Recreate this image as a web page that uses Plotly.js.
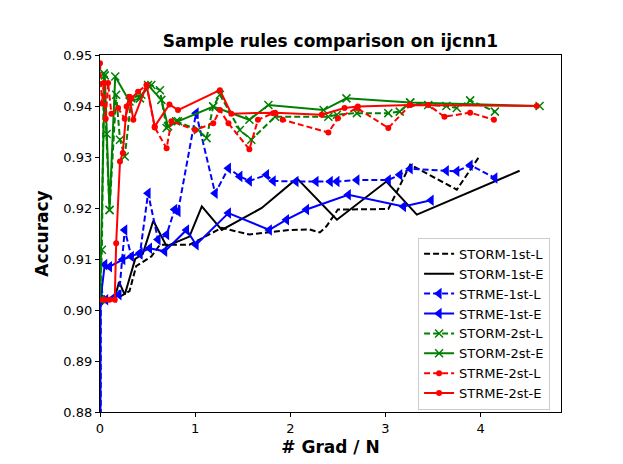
<!DOCTYPE html>
<html>
<head>
<meta charset="utf-8">
<script src="https://cdn.plot.ly/plotly-3.0.1.min.js"></script>
<style>html,body{margin:0;padding:0;background:#fff;}#chart{width:623px;height:464px;}</style>
</head>
<body>
<div id="chart"></div>
<script>
// ---- data ----
const stormL1_x = [0, 0.005, 0.155, 0.31, 0.38, 0.54, 0.63, 0.94, 1.28, 1.57, 2.0, 2.20, 2.31, 2.38, 2.50, 3.03, 3.26, 3.75, 3.99];
const stormL1_y = [0.5, 0.902, 0.902, 0.9037, 0.9086, 0.9105, 0.9128, 0.9128, 0.9161, 0.9148, 0.9157, 0.9158, 0.9152, 0.9164, 0.9197, 0.9198, 0.9285, 0.9236, 0.9302];

const stormE1_x = [0, 0.15, 0.2, 0.26, 0.37, 0.45, 0.56, 0.70, 0.94, 1.07, 1.28, 1.47, 1.70, 2.07, 2.49, 3.01, 3.33, 4.41];
const stormE1_y = [0.902, 0.902, 0.9055, 0.903, 0.910, 0.911, 0.9175, 0.9125, 0.9144, 0.9203, 0.9157, 0.9177, 0.920, 0.9258, 0.9177, 0.9252, 0.9187, 0.9273];

const strmeL1_x = [0, 0.005, 0.06, 0.15, 0.2, 0.26, 0.33, 0.42, 0.505, 0.61, 0.70, 0.785, 0.82, 1.01, 1.21, 1.35, 1.47, 1.57, 1.75, 1.82, 2.06, 2.27, 2.42, 2.49, 2.70, 3.03, 3.15, 3.26, 3.64, 3.75, 3.89, 4.15];
const strmeL1_y = [0.5, 0.9043, 0.902, 0.9025, 0.903, 0.9157, 0.9105, 0.911, 0.9229, 0.9138, 0.9148, 0.9197, 0.9193, 0.9386, 0.9229, 0.9278, 0.9262, 0.9253, 0.9265, 0.9253, 0.9252, 0.9252, 0.9252, 0.9252, 0.9255, 0.9255, 0.9265, 0.9277, 0.9273, 0.9272, 0.9284, 0.9259];

const strmeE1_x = [0, 0.005, 0.05, 0.1, 0.24, 0.42, 0.52, 0.68, 0.91, 1.01, 1.35, 1.78, 1.96, 2.17, 2.61, 3.19, 3.48];
const strmeE1_y = [0.5, 0.902, 0.9089, 0.9085, 0.9099, 0.9112, 0.9121, 0.9115, 0.9157, 0.9128, 0.919, 0.9157, 0.9177, 0.9197, 0.9226, 0.9203, 0.9215];

const stormL2_x = [0, 0.02, 0.04, 0.07, 0.1, 0.17, 0.21, 0.26, 0.33, 0.435, 0.54, 0.63, 0.70, 0.80, 1.03, 1.12, 1.19, 1.26, 1.47, 1.59, 1.84, 2.40, 2.49, 2.70, 3.03, 3.15, 3.26, 3.45, 3.64, 3.75, 3.89, 4.15];
const stormL2_y = [0.902, 0.9118, 0.9464, 0.9345, 0.9196, 0.9422, 0.9334, 0.9301, 0.9415, 0.9422, 0.9441, 0.9431, 0.9357, 0.937, 0.9353, 0.9337, 0.9399, 0.9422, 0.9353, 0.9334, 0.9379, 0.9379, 0.9383, 0.9386, 0.9386, 0.9389, 0.9407, 0.9402, 0.94, 0.9396, 0.9411, 0.9389];

const stormE2_x = [0, 0.05, 0.1, 0.16, 0.31, 0.42, 0.505, 0.645, 0.715, 0.82, 1.19, 1.57, 1.77, 2.35, 2.59, 3.26, 4.62];
const stormE2_y = [0.902, 0.946, 0.9196, 0.9458, 0.9409, 0.9415, 0.9441, 0.9412, 0.936, 0.937, 0.9399, 0.9373, 0.9402, 0.9392, 0.9415, 0.9407, 0.940];

const strmeL2_x = [0, 0.02, 0.04, 0.06, 0.085, 0.12, 0.19, 0.26, 0.33, 0.40, 0.49, 0.575, 0.70, 0.75, 1.0, 1.19, 1.26, 1.35, 1.57, 1.66, 1.82, 1.92, 2.40, 2.50, 2.70, 3.03, 3.26, 3.45, 3.62, 3.89, 4.14];
const strmeL2_y = [0.9484, 0.9405, 0.9445, 0.9375, 0.9445, 0.9385, 0.9396, 0.9375, 0.9415, 0.9428, 0.9441, 0.9358, 0.9317, 0.937, 0.9353, 0.9366, 0.9392, 0.9366, 0.9315, 0.9373, 0.9386, 0.9373, 0.9348, 0.9376, 0.9396, 0.9357, 0.9402, 0.9402, 0.9379, 0.9387, 0.9373];

const strmeE2_x = [0, 0.05, 0.1, 0.155, 0.17, 0.21, 0.24, 0.28, 0.31, 0.35, 0.49, 0.575, 0.73, 0.82, 1.26, 1.38, 1.84, 2.33, 2.57, 2.71, 3.26, 4.59];
const strmeE2_y = [0.902, 0.902, 0.902, 0.902, 0.9131, 0.9291, 0.9308, 0.9399, 0.9418, 0.9373, 0.9441, 0.936, 0.9403, 0.9392, 0.9431, 0.9385, 0.9387, 0.9383, 0.9396, 0.9399, 0.9402, 0.940];

const seriesNames = ["STORM-1st-L", "STORM-1st-E", "STRME-1st-L", "STRME-1st-E", "STORM-2st-L", "STORM-2st-E", "STRME-2st-L", "STRME-2st-E"];
const yTickVals = [0.88, 0.89, 0.90, 0.91, 0.92, 0.93, 0.94, 0.95];
const xTickVals = [0, 1, 2, 3, 4];

// ---- styling ----
const DASH = "6px,3px";
function tr(name, x, y, color, dash, sym, msize, mline) {
  const t = {name: name, x: x, y: y, type: "scatter",
    mode: sym ? "lines+markers" : "lines",
    line: {color: color, width: 2, dash: dash}};
  if (sym) {
    t.marker = {symbol: sym, size: msize, color: color, line: {color: color, width: mline || 0}};
  }
  return t;
}
const data = [
  tr(seriesNames[0], stormL1_x, stormL1_y, "black", DASH, null),
  tr(seriesNames[1], stormE1_x, stormE1_y, "black", "solid", null),
  tr(seriesNames[2], strmeL1_x, strmeL1_y, "#0000ff", DASH, "triangle-left", 10),
  tr(seriesNames[3], strmeE1_x, strmeE1_y, "#0000ff", "solid", "triangle-left", 10),
  tr(seriesNames[4], stormL2_x, stormL2_y, "#008000", DASH, "x-thin-open", 8, 1.5),
  tr(seriesNames[5], stormE2_x, stormE2_y, "#008000", "solid", "x-thin-open", 8, 1.5),
  tr(seriesNames[6], strmeL2_x, strmeL2_y, "#ff0000", DASH, "circle", 6),
  tr(seriesNames[7], strmeE2_x, strmeE2_y, "#ff0000", "solid", "circle", 6)
];

const FONT = "DejaVu Sans, sans-serif";
const layout = {
  width: 623, height: 464,
  margin: {l: 100, r: 62, t: 55, b: 51.5, pad: 0},
  paper_bgcolor: "#fff", plot_bgcolor: "#fff",
  font: {family: FONT, size: 13, color: "#000"},
  showlegend: true,
  title: {text: "<b>Sample rules comparison on ijcnn1</b>", font: {family: FONT, size: 17, color: "#000"},
          x: 0.5, xref: "paper", y: 1 - 41/464, yref: "container", yanchor: "middle"},
  xaxis: {
    range: [0, 4.845], tickvals: xTickVals, ticktext: xTickVals.map(String),
    showgrid: false, zeroline: false, showline: true, mirror: true, linecolor: "#000", linewidth: 1.2,
    ticks: "outside", ticklen: 4, tickcolor: "#000", tickfont: {size: 13},
    title: {text: "<b># Grad / N</b>", font: {size: 17}, standoff: 6}
  },
  yaxis: {
    range: [0.88, 0.95], tickvals: yTickVals, ticktext: yTickVals.map(v => v.toFixed(2)),
    showgrid: false, zeroline: false, showline: true, mirror: true, linecolor: "#000", linewidth: 1.2,
    ticks: "outside", ticklen: 4, tickcolor: "#000", tickfont: {size: 13},
    title: {text: "<b>Accuracy</b>", font: {size: 17}, standoff: 10}
  },
  legend: {x: 0.69, y: 0.006, xanchor: "left", yanchor: "bottom",
           bgcolor: "rgba(255,255,255,0.85)", bordercolor: "#cccccc", borderwidth: 1,
           font: {size: 13}, tracegroupgap: 0, itemwidth: 30}
};
Plotly.newPlot("chart", data, layout, {displayModeBar: false, staticPlot: true});
</script>
</body>
</html>
